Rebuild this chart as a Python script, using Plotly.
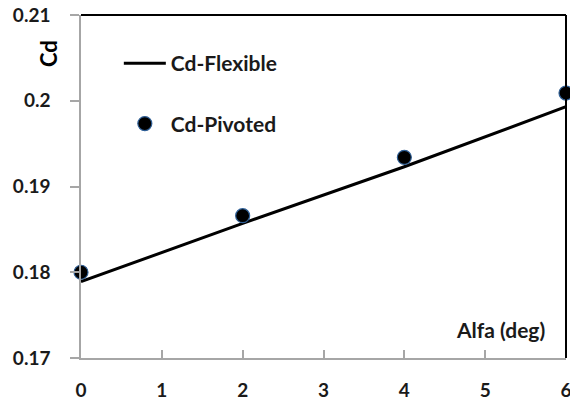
import plotly.graph_objects as go

# Data
alfa_flex = [0, 2, 4, 6]
cd_flex = [0.1789, 0.1857, 0.1923, 0.1993]
alfa_piv = [0, 2, 4, 6]
cd_piv = [0.1800, 0.1866, 0.1934, 0.2009]

x_ticks = [0, 1, 2, 3, 4, 5, 6]
y_ticks = [0.17, 0.18, 0.19, 0.20, 0.21]
y_tick_labels = ["0.17", "0.18", "0.19", "0.2", "0.21"]

FONT = "Lato"
TXT = "#1a1a1a"

fig = go.Figure()
fig.add_trace(go.Scatter(
    x=alfa_flex, y=cd_flex, mode="lines", name="Cd-Flexible",
    legendgroup="a",
    line=dict(color="black", width=3), cliponaxis=False))
fig.add_trace(go.Scatter(
    x=alfa_piv, y=cd_piv, mode="markers", name="Cd-Pivoted",
    legendgroup="b",
    marker=dict(color="black", size=14, line=dict(color="#2f5f96", width=1.2)),
    cliponaxis=False))

tickfont = dict(family=FONT, size=19, color=TXT, weight="bold")

fig.update_layout(
    width=570, height=403,
    margin=dict(l=81, r=4, t=15, b=45, autoexpand=False),
    plot_bgcolor="white", paper_bgcolor="white",
    showlegend=True,
    legend=dict(x=0.078, y=0.918, xanchor="left", yanchor="top",
                font=dict(family=FONT, size=21, color=TXT, weight="bold"),
                bgcolor="rgba(0,0,0,0)", traceorder="grouped",
                tracegroupgap=30, itemwidth=42),
    xaxis=dict(range=[0, 6], tickvals=x_ticks, showgrid=False, zeroline=False,
               showline=True, linecolor="#a6a6a6", linewidth=1.5,
               ticks="inside", ticklen=8, tickcolor="#a6a6a6", tickwidth=1.5,
               ticklabelstandoff=14, ticklabeloverflow="allow", automargin=False,
               tickfont=tickfont),
    yaxis=dict(range=[0.17, 0.21], tickvals=y_ticks, ticktext=y_tick_labels,
               showgrid=False, zeroline=False,
               showline=True, linecolor="#a6a6a6", linewidth=1.5,
               ticks="outside", ticklen=9, tickcolor="#a6a6a6", tickwidth=1.5,
               ticklabelstandoff=16, ticklabeloverflow="allow", automargin=False,
               tickfont=tickfont),
    shapes=[
        dict(type="line", xref="paper", yref="paper", x0=0, x1=1, y0=1, y1=1,
             line=dict(color="black", width=2)),
        dict(type="line", xref="paper", yref="paper", x0=1, x1=1, y0=0, y1=1,
             line=dict(color="black", width=2)),
    ],
    annotations=[
        dict(text="Cd", xref="paper", yref="paper", x=-0.068, y=0.886,
             xanchor="center", yanchor="middle",
             textangle=-90, showarrow=False,
             font=dict(family=FONT, size=22, color="black", weight="bold")),
        dict(text="Alfa (deg)", xref="paper", yref="paper", x=0.961, y=0.082,
             xanchor="right", yanchor="middle", showarrow=False,
             font=dict(family=FONT, size=21, color=TXT, weight="bold")),
    ],
)

fig.write_html("out.html")
